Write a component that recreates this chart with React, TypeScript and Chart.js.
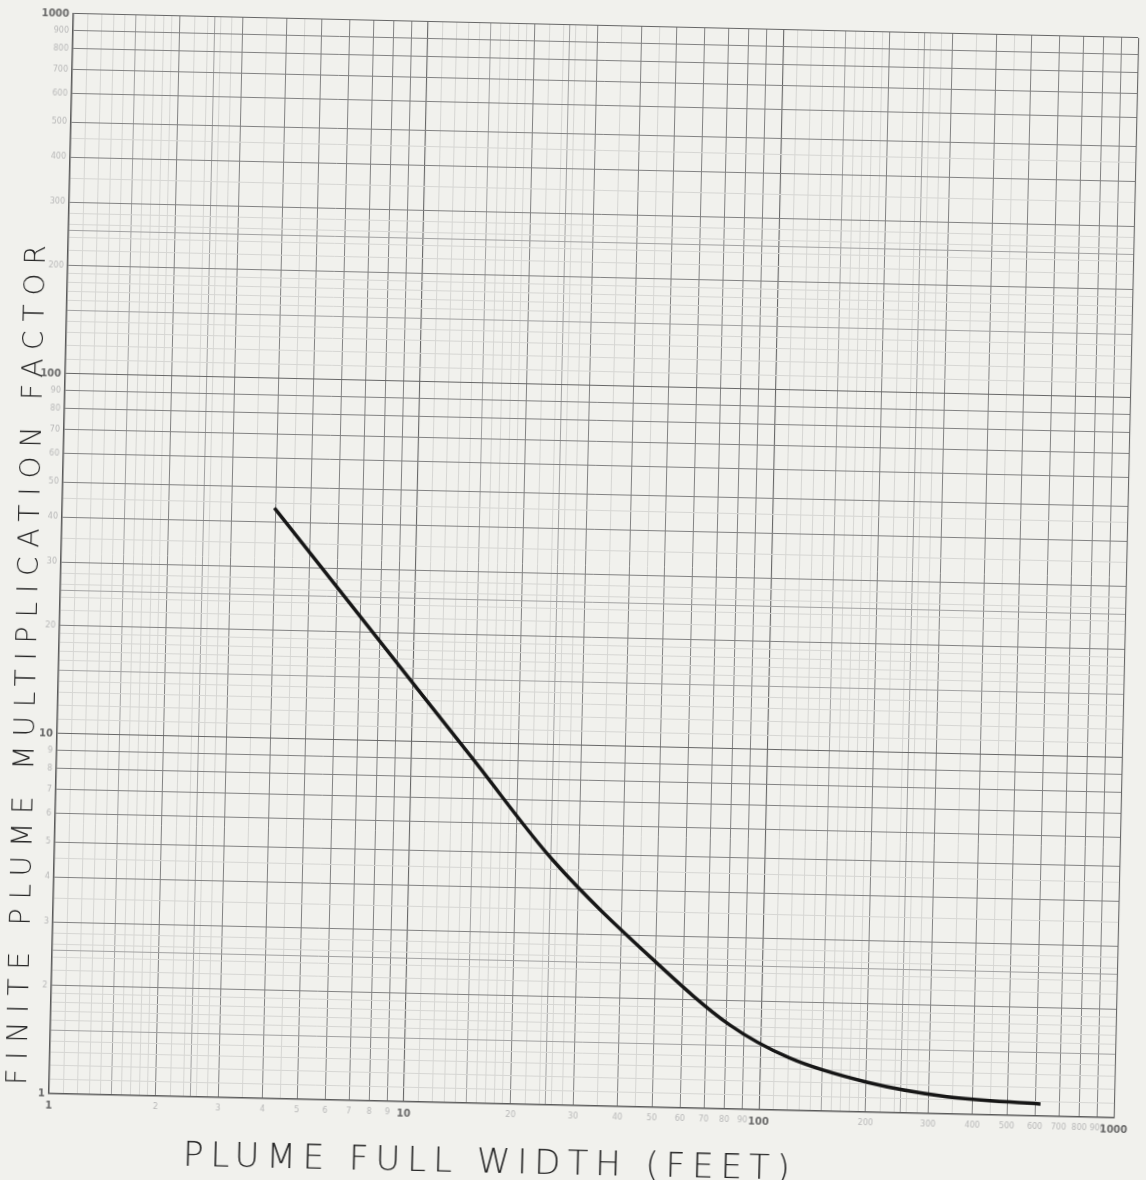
import React, { useEffect, useRef } from "react";
import { Chart, registerables } from "chart.js";

Chart.register(...registerables);

// ---- data (log-log paper, 3 x 3 cycles) ----
const widthFeet = [3.96, 8.84, 14.95, 25.3, 48.7, 82, 120.9, 202, 338, 621];
const multFactor = [43.7, 16.8, 8.99, 4.8, 2.6, 1.71, 1.4, 1.21, 1.117, 1.08];

const xTitle = "PLUME FULL WIDTH (FEET)";
const yTitle = "FINITE PLUME MULTIPLICATION FACTOR";

const decadeStarts = [1, 10, 100];
const axisMin = 1;
const axisMax = 1000;
const integerMantissas = [1, 2, 3, 4, 5, 6, 7, 8, 9];
const midMantissas = [1.5, 2.5];
const faintMantissas = [1.1, 1.2, 1.3, 1.4, 1.6, 1.7, 1.8, 1.9, 2.2, 2.4, 2.6, 2.8, 3.5, 4.5];

function buildTickValues(): number[] {
  const vals: number[] = [];
  for (const d of decadeStarts) {
    for (const m of [...integerMantissas, ...midMantissas, ...faintMantissas]) {
      vals.push(+(d * m).toPrecision(6));
    }
  }
  vals.push(axisMax);
  return vals.sort((a, b) => a - b);
}
const tickValues = buildTickValues();

function lineClass(v: number): number {
  const e = Math.floor(Math.log10(v) + 1e-9);
  const m = Math.round((v / Math.pow(10, e)) * 100) / 100;
  if (m === 1) return 0;
  if (Number.isInteger(m)) return 1;
  if (m === 1.5 || m === 2.5) return 2;
  return 3;
}

const gridColors = ["#666666", "#828282", "#a2a2a2", "#d6d6d3"];
const gridWidths = [1.1, 1, 1, 1];

function tickLabel(v: number): string {
  const c = lineClass(v);
  if (c > 1) return "";
  return String(Math.round(v));
}

const handTitles = {
  id: "handTitles",
  afterDraw(chart: any) {
    const ctx: any = chart.ctx;
    const draw = (text: string, x: number, y: number, rot: number, size: number, target: number) => {
      ctx.save();
      ctx.translate(x, y);
      ctx.rotate(rot);
      ctx.font = `300 ${size}px "DejaVu Sans", "Liberation Sans", sans-serif`;
      ctx.fillStyle = "#262626";
      ctx.textAlign = "center";
      ctx.textBaseline = "middle";
      ctx.letterSpacing = "0px";
      const w = ctx.measureText(text).width;
      const sp = Math.max(0, (target - w) / (text.length - 1));
      ctx.letterSpacing = sp.toFixed(2) + "px";
      ctx.fillText(text, sp / 2, 0);
      ctx.restore();
    };
    draw(xTitle, 500, 1166, 0, 34, 607);
    draw(yTitle, 31, 678, -Math.PI / 2, 28, 840);
  },
};

function scaleCommon(isX: boolean) {
  return {
    type: "logarithmic" as const,
    min: axisMin,
    max: axisMax,
    afterBuildTicks: (scale: any) => {
      scale.ticks = tickValues.map((v) => ({ value: v }));
    },
    afterFit: (scale: any) => {
      if (isX) scale.height = 74;
      else scale.width = 61;
    },
    border: { display: true, color: "#5a5a5a", width: 1.5 },
    grid: {
      drawTicks: false,
      color: (ctx: any) => gridColors[lineClass(ctx.tick.value)],
      lineWidth: (ctx: any) => gridWidths[lineClass(ctx.tick.value)],
    },
    ticks: {
      autoSkip: false,
      maxRotation: 0,
      minRotation: 0,
      padding: isX ? 6 : 4,
      callback: (value: any) => tickLabel(Number(value)),
      color: (ctx: any) => (ctx.tick && lineClass(ctx.tick.value) === 0 ? "#6a6a6a" : "#b8b8b8"),
      font: (ctx: any) =>
        ctx.tick && lineClass(ctx.tick.value) === 0
          ? { family: "DejaVu Sans", size: 10, weight: "bold" as const }
          : { family: "DejaVu Sans", size: 8 },
    },
  };
}

export default function App() {
  const ref = useRef<HTMLCanvasElement>(null);
  useEffect(() => {
    const canvas = ref.current;
    if (!canvas) return;
    const chart = new Chart(canvas, {
      type: "line",
      data: {
        datasets: [
          {
            label: "Finite plume multiplication factor",
            data: widthFeet.map((x, i) => ({ x, y: multFactor[i] })),
            borderColor: "#161616",
            borderWidth: 3.5,
            pointRadius: 0,
            fill: false,
            cubicInterpolationMode: "monotone",
          },
        ],
      },
      options: {
        animation: false,
        responsive: false,
        devicePixelRatio: 1,
        layout: { padding: { top: 26, right: 5, left: 0, bottom: 0 } },
        plugins: { legend: { display: false }, tooltip: { enabled: false } },
        scales: {
          x: scaleCommon(true) as any,
          y: scaleCommon(false) as any,
        },
      },
      plugins: [handTitles],
    });
    return () => chart.destroy();
  }, []);

  return (
    <div
      style={{
        position: "absolute",
        left: 0,
        top: 0,
        width: 1146,
        height: 1180,
        overflow: "hidden",
        background: "#f1f1ed",
      }}
    >
      <canvas
        ref={ref}
        width={1146}
        height={1180}
        style={{
          width: 1146,
          height: 1180,
          display: "block",
          transform: "rotate(1.3deg)",
          transformOrigin: "601px 566px",
        }}
      />
    </div>
  );
}
